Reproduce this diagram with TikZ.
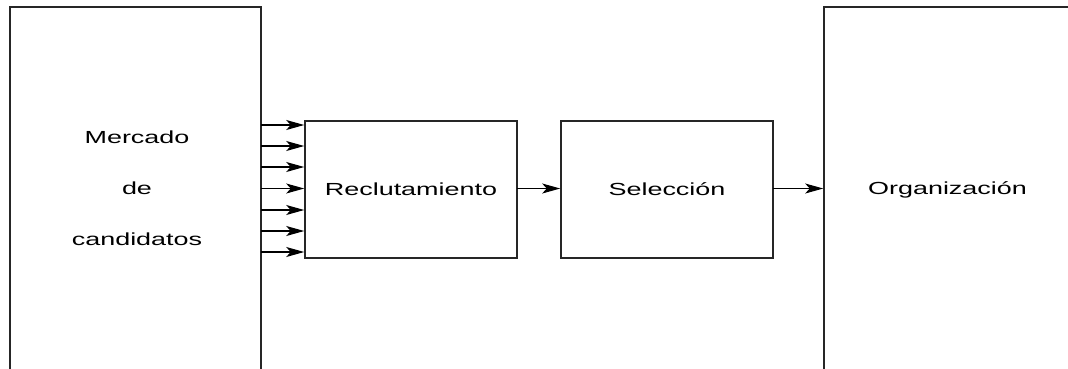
\documentclass[tikz,border=0pt]{standalone}
\usepackage{fontspec}
\setmainfont{Liberation Sans}
\usepackage{graphicx}
\usetikzlibrary{arrows.meta}
\newcommand{\sx}[1]{\scalebox{1.54}[1]{#1}}
\begin{document}
\begin{tikzpicture}[x=1pt,y=-1pt,
  blk/.style={draw=black!85,line width=2pt,inner sep=0pt,outer sep=0pt,
    font=\fontsize{17.5}{51}\selectfont,align=center},
  arr/.style={line width=1.1pt,-{Stealth[length=18pt,width=10pt,inset=4.5pt]},shorten >=0.8pt}]
\useasboundingbox (0,0) rectangle (1068,368);
\clip (0,0) rectangle (1068,368);
\node[blk,minimum width=251pt,minimum height=386pt] (mercado) at (135.5,200) {};
\node[font=\fontsize{17.5}{51}\selectfont,align=center] (mtext) at (137,188.5)
  {\sx{Mercado}\\\sx{de}\\\sx{candidatos}};
\node[blk,minimum width=212pt,minimum height=137pt] (recl) at (411,189.5) {\sx{Reclutamiento}};
\node[blk,minimum width=212pt,minimum height=137pt] (sel) at (667,189.5) {\sx{Selección}};
\node[blk,minimum width=250pt,minimum height=386pt] (org) at (949,200) {};
\node[font=\fontsize{17.5}{51}\selectfont] (otext) at (947.5,189.5) {\sx{Organización}};
\foreach \yy/\nm in {125/a1,146/a2,167/a3,188.5/a4,210/a5,231/a6,252/a7}{
  \coordinate (s\nm) at (mercado.east |- 0,\yy);
  \coordinate (e\nm) at (recl.west |- 0,\yy);
  \draw[arr] (s\nm) -- (e\nm);
}
\draw[arr] (recl.east |- 0,188.5) -- (sel.west |- 0,188.5);
\draw[arr] (sel.east |- 0,188.5) -- (org.west |- 0,188.5);
\end{tikzpicture}
\end{document}
